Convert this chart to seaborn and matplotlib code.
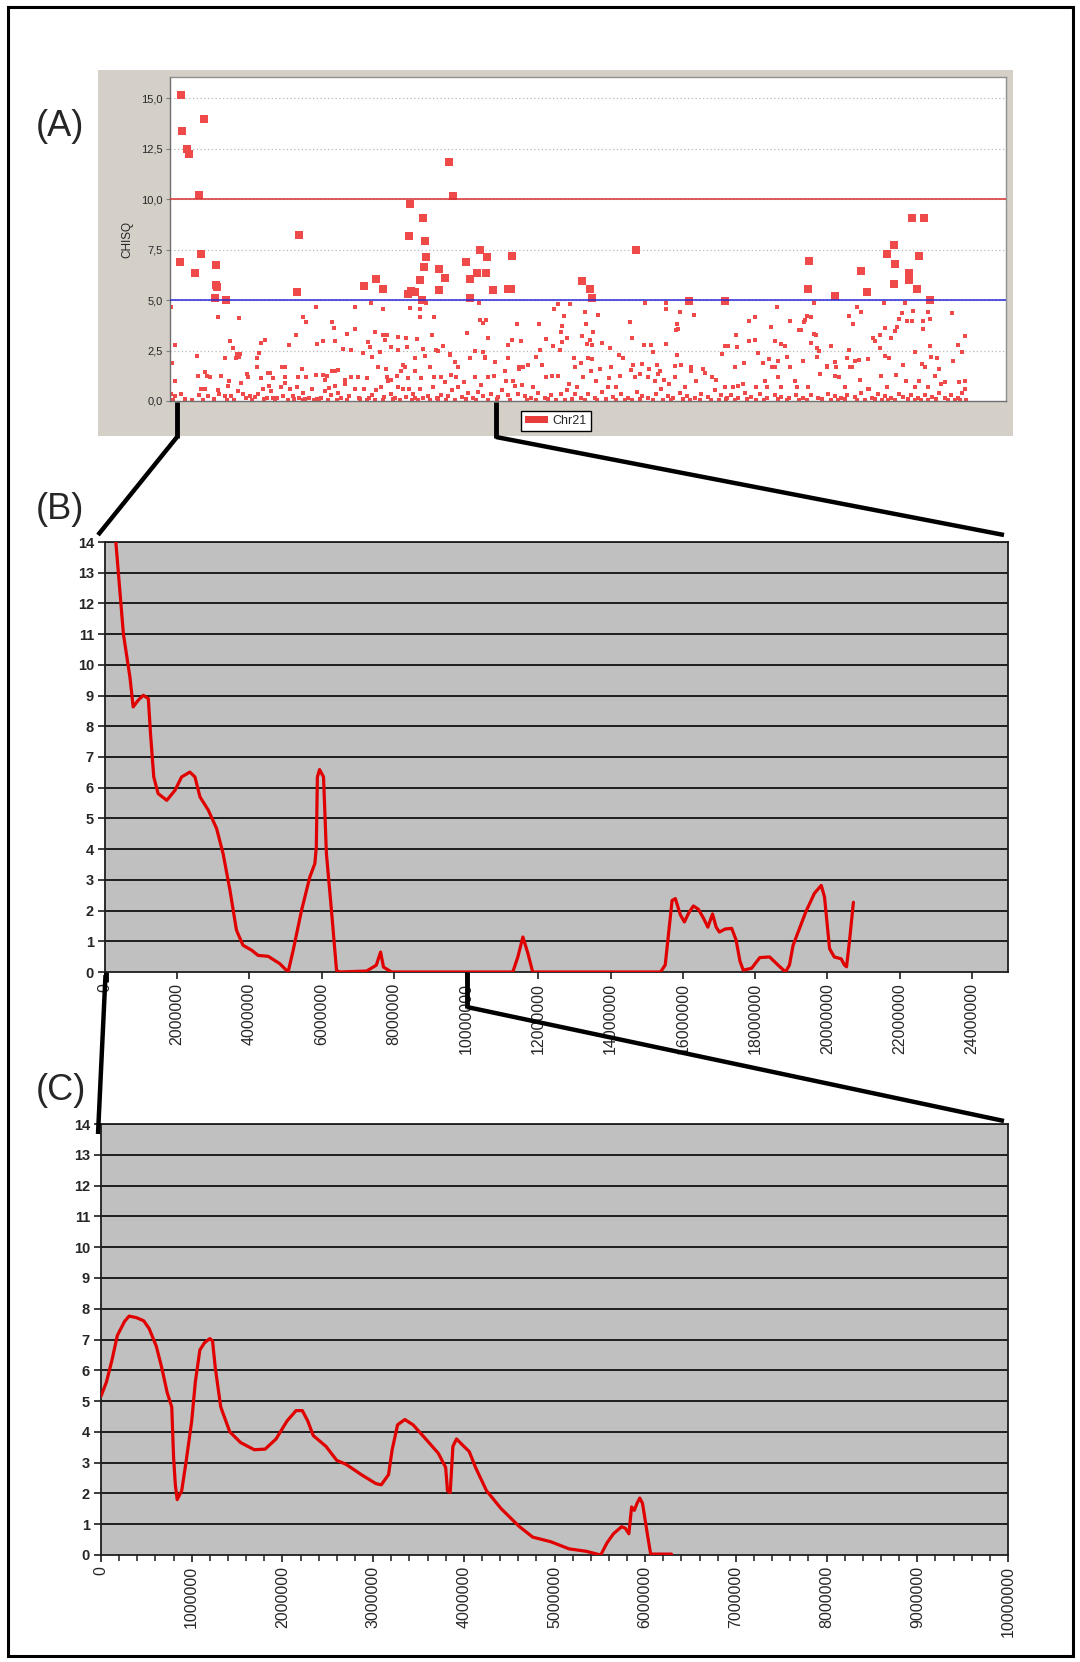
import matplotlib
matplotlib.use("Agg")
import matplotlib.pyplot as plt
from matplotlib.lines import Line2D
from matplotlib.patches import Rectangle, Patch
from matplotlib.ticker import MultipleLocator
import numpy as np
import pandas as pd
import seaborn as sns

W, H = 1080, 1662

# ─────────────────────────────────────────
# Panel A : CHISQ per marker along chr21 (x in arbitrary marker units)
# ─────────────────────────────────────────
a_big_x = [10.7, 12, 17.3, 19.3, 34, 29, 10.3, 25.3, 31.3, 45.7, 46, 47, 44.7, 55.7,
           129, 126.7, 193.7, 205.7, 213.3, 240, 239, 253.3, 254.7, 256, 254.3, 250.3,
           237.7, 241, 245, 252.3, 269.3, 275.3, 269.3, 279, 283, 296.3, 300, 300,
           309.7, 307.3, 317, 316, 323.3, 341.7, 337.7, 341.3,
           466, 412, 419.7, 422.3, 518.7, 555.3, 639.3, 638.3, 664.7, 690.7, 696.7,
           716.7, 723.7, 725, 723.7, 739.3, 739.3, 742, 754.3, 749, 746.7, 760.3]
a_big_y = [15.13, 13.37, 12.46, 12.21, 13.98, 10.2, 6.9, 6.35, 7.26, 6.72, 5.73, 5.63, 5.12, 4.98,
           8.23, 5.38, 5.69, 6.04, 5.56, 9.74, 8.17, 9.08, 7.92, 7.13, 6.65, 5.99,
           5.31, 5.43, 5.4, 5.02, 6.53, 6.1, 5.5, 11.85, 10.17, 6.9, 6.04, 5.12,
           7.49, 6.35, 7.13, 6.35, 5.5, 7.19, 5.56, 5.56,
           7.49, 5.92, 5.56, 5.1, 4.97, 4.97, 6.95, 5.56, 5.2, 6.42, 5.38,
           7.26, 7.74, 6.77, 5.79, 6.34, 5.97, 9.08, 9.08, 7.19, 5.56, 5.02]

a_small_x = [
    # first third
    0.7, 48.0, 69.0, 145.7, 132.7, 136.3, 162.0, 164.0, 185.0, 201.0, 185.3, 176.7, 213.3, 240.0,
    250.0, 256.3, 250.0, 263.7, 204.7, 213.3, 217.3, 228.0, 236.0, 247.3, 262.0, 273.3, 266.3,
    60.0, 63.0, 66.7, 70.0, 126.0, 119.0, 95.3, 91.3, 88.7, 87.3, 27.3, 4.7, 147.0, 153.0, 164.7,
    172.7, 181.3, 192.7, 198.0, 200.0, 202.0, 210.0, 215.0, 221.0, 227.7, 236.7, 245.0, 253.0,
    255.3, 268.3, 280.3,
    2.0, 5.3, 28.3, 35.3, 37.3, 40.0, 51.3, 54.7, 59.3, 66.0, 68.7, 76.7, 78.0, 87.0, 90.7, 98.0,
    100.0, 102.7, 112.0, 115.3, 114.7, 127.7, 132.3, 136.3, 146.0, 153.0, 155.3, 157.3, 162.0,
    164.7, 168.0, 174.7, 181.3, 188.0, 196.7, 208.0, 216.0, 216.7, 220.7, 227.3, 231.3, 232.7,
    235.3, 238.0, 245.3, 251.3, 260.3, 264.0, 271.3,
    0.7, 5.3, 10.7, 28.7, 31.3, 35.3, 38.0, 48.0, 48.7, 54.7, 58.0, 61.3, 68.0, 70.7, 73.0, 76.3,
    80.0, 85.3, 88.0, 93.3, 96.7, 98.7, 101.3, 103.3, 107.3, 111.3, 113.3, 115.3, 120.0, 122.7,
    126.7, 129.3, 132.7, 135.3, 139.3, 142.0, 146.7, 151.3, 154.7, 159.3, 161.3, 164.7, 168.0,
    170.7, 174.7, 178.7, 184.7, 188.7, 194.0, 198.7, 202.0, 206.0, 211.3, 214.0, 218.0, 220.7,
    224.7, 228.0, 232.7, 236.0, 238.7, 243.3, 245.3, 250.0, 253.3, 258.0, 262.7, 266.7, 270.7,
    274.7, 278.0,
    3, 15, 22, 33, 44, 57, 64, 82, 94, 105, 118, 124, 133, 144, 149, 158, 167, 177, 190, 197,
    205, 213, 223, 230, 242, 248, 260, 268, 276,
    # second third
    308.7, 309.7, 313.3, 316.0, 297.3, 318.0, 347.3, 342.3, 338.0, 351.3, 369.3, 375.7, 370.0,
    384.0, 388.0, 400.3, 393.7, 391.7, 390.7, 397.0, 391.7, 383.3, 390.3, 414.7, 412.0, 416.0,
    428.3, 423.3, 419.7, 422.0, 417.3, 432.0, 440.0, 459.7, 462.3, 475.3, 474.0, 480.7, 483.3,
    496.3, 495.7, 496.3, 509.7, 523.7, 507.3, 508.0, 506.3, 507.3, 554.7, 558.0, 552.3,
    280.0, 304.7, 313.3, 300.3, 315.3, 338.0, 366.0, 372.3, 404.0, 411.3, 418.0, 422.0, 430.0,
    448.7, 452.7, 441.3, 472.0, 463.3, 478.7, 487.3, 505.3, 511.3, 521.3, 533.3, 490.3, 284.7,
    288.0, 314.7, 324.7, 349.0, 353.3, 358.0, 404.7,
    280.7, 286.0, 294.0, 304.7, 310.7, 318.0, 324.0, 334.7, 336.0, 343.3, 349.3, 352.0, 362.7,
    376.0, 382.0, 388.0, 398.7, 407.3, 412.7, 421.3, 426.0, 439.3, 446.3, 450.0, 460.7, 464.7,
    470.0, 478.0, 484.7, 488.0, 494.0, 499.3, 504.7, 515.3, 521.3, 526.0, 534.7, 542.0, 546.0,
    555.3,
    282.0, 288.0, 292.0, 298.0, 302.7, 308.0, 312.7, 321.3, 328.0, 332.0, 338.0, 344.7, 348.0,
    354.7, 361.3, 368.0, 374.7, 381.3, 391.3, 396.7, 405.3, 411.3, 418.0, 424.7, 432.0, 438.0,
    443.3, 451.3, 458.0, 466.7, 472.0, 478.0, 486.0, 491.3, 498.0, 503.3, 510.0, 516.7, 524.7,
    531.3, 538.0, 544.7, 551.3, 557.3,
    285, 296, 306, 318, 327, 340, 357, 366, 378, 386, 395, 402, 415, 427, 436, 446, 455, 462,
    470, 483, 493, 501, 513, 520, 530, 541, 549, 556,
    # last third
    607.3, 578.7, 584.7, 601.3, 620.0, 644.0, 636.7, 635.3, 634.0, 630.7, 629.3, 640.7, 605.3,
    611.3, 579.3, 584.7, 566.0, 558.0, 566.7, 641.3, 644.0, 646.3, 646.7, 649.3, 661.3, 679.3,
    683.3, 686.7, 690.7, 679.3, 714.0, 714.7, 710.3, 703.3, 705.3, 720.7, 724.7, 727.3, 728.7,
    732.0, 734.7, 737.3, 742.3, 743.3, 752.7, 753.0, 757.7, 760.0, 782.0, 794.7, 788.0, 792.0,
    760.0, 709.7, 744.7, 783.3,
    564.7, 574.0, 588.0, 592.7, 599.3, 602.0, 604.7, 608.0, 615.3, 616.7, 620.0, 632.7, 646.7,
    656.7, 664.7, 666.0, 676.7, 680.0, 684.7, 689.3, 698.0, 714.7, 719.3, 732.7, 752.0, 761.3,
    767.3, 754.7, 768.7,
    563.3, 568.0, 572.7, 586.0, 594.7, 596.7, 608.0, 611.3, 624.7, 626.7, 638.0, 650.0, 656.7,
    664.7, 668.7, 674.7, 682.0, 690.0, 698.0, 711.3, 716.7, 726.0, 736.0, 744.7, 749.3, 758.0,
    764.7, 771.3, 774.7, 789.3, 794.7, 795.3,
    561.3, 568.0, 574.7, 581.3, 590.0, 597.3, 604.7, 611.3, 619.3, 626.0, 633.3, 641.3, 648.0,
    658.0, 664.7, 671.3, 677.3, 684.7, 691.3, 699.3, 702.0, 708.0, 714.7, 721.3, 728.7, 733.3,
    741.3, 748.0, 754.7, 762.0, 768.7, 774.7, 781.3, 788.0, 792.0,
    565, 577, 586, 594, 608, 617, 629, 637, 652, 661, 668, 675, 687, 695, 705, 712, 718, 725,
    738, 745, 751, 758, 766, 778, 785, 790, 796,
]
a_small_y = [
    4.67, 4.17, 4.12, 4.67, 4.17, 3.93, 3.93, 3.60, 4.67, 4.83, 3.57, 3.32, 4.53, 4.60,
    4.53, 4.83, 4.17, 4.17, 3.40, 3.25, 3.25, 3.17, 3.13, 3.07, 3.25, 2.70, 2.53,
    2.97, 2.63, 2.33, 2.33, 3.25, 2.75, 3.02, 2.88, 2.40, 2.15, 2.23, 2.77, 2.83, 2.97, 2.97,
    2.57, 2.53, 2.40, 2.92, 2.67, 2.20, 2.42, 3.00, 2.67, 2.53, 2.67, 2.13, 2.57,
    2.25, 2.47, 2.33,
    1.87, 1.00, 1.25, 1.42, 1.25, 1.18, 1.22, 2.12, 1.00, 2.12, 2.17, 1.33, 1.17, 1.67, 1.13, 1.37,
    1.37, 1.15, 1.67, 1.67, 1.17, 1.17, 1.60, 1.17, 1.27, 1.27, 1.03, 1.23, 1.47,
    1.47, 1.55, 1.03, 1.17, 1.17, 1.13, 1.67, 1.58, 1.18, 1.03, 1.22, 1.47, 1.80,
    1.67, 1.13, 1.50, 1.13, 1.67, 1.18, 1.17,
    0.33, 0.25, 0.33, 0.30, 0.58, 0.58, 0.23, 0.53, 0.33, 0.25, 0.72, 0.23, 0.50, 0.87, 0.33, 0.17,
    0.25, 0.22, 0.33, 0.58, 0.17, 0.75, 0.50, 0.17, 0.17, 0.67, 0.25, 0.87, 0.58, 0.25,
    0.67, 0.17, 0.42, 0.08, 0.17, 0.58, 0.08, 0.17, 0.50, 0.63, 0.30, 0.75, 0.42,
    0.17, 0.83, 0.25, 0.58, 0.17, 0.58, 0.17, 0.30, 0.53, 0.67, 0.20, 1.00, 0.33,
    0.17, 0.67, 0.58, 0.20, 0.58, 0.33, 0.17, 0.58, 0.17, 0.25, 0.67, 0.17, 0.30,
    0.92, 0.25,
    0.05, 0.08, 0.03, 0.06, 0.10, 0.04, 0.07, 0.05, 0.09, 0.03, 0.06, 0.10, 0.04, 0.05, 0.08, 0.03,
    0.07, 0.05, 0.09, 0.04, 0.06, 0.03, 0.08, 0.05, 0.07, 0.04, 0.06, 0.09, 0.03,
    4.83, 4.03, 3.88, 4.03, 3.38, 3.13, 3.80, 3.02, 2.77, 2.95, 3.80, 3.07, 2.53,
    4.53, 4.78, 4.78, 4.20, 3.73, 3.43, 3.13, 2.90, 2.70, 2.53, 4.42, 3.20, 3.80,
    4.28, 3.43, 3.02, 2.77, 2.83, 2.87, 2.63, 3.93, 3.13, 4.83, 2.77, 2.77, 2.45,
    4.83, 4.55, 2.83, 4.42, 4.28, 3.80, 3.58, 3.50, 2.28, 2.70, 2.70, 2.33,
    2.28, 2.47, 2.43, 2.13, 2.13, 2.12, 2.20, 1.77, 2.13, 1.87, 2.13, 2.08, 1.60,
    2.28, 2.13, 1.67, 1.83, 1.77, 1.60, 1.80, 1.75, 1.80, 1.70, 1.60, 1.47, 1.92,
    1.67, 2.20, 1.92, 1.58, 1.67, 1.77, 1.67,
    1.27, 1.17, 0.92, 1.17, 0.80, 1.17, 1.23, 1.50, 0.97, 1.00, 1.67, 0.80, 0.70,
    1.17, 1.23, 1.23, 0.83, 0.70, 1.17, 1.47, 1.00, 1.13, 0.67, 1.25, 1.53, 1.17,
    1.33, 1.17, 1.00, 1.33, 1.03, 0.83, 1.17, 0.67, 1.47, 1.00, 1.37, 1.20, 1.03,
    0.70,
    0.53, 0.67, 0.20, 0.42, 0.17, 0.47, 0.23, 0.33, 0.20, 0.53, 0.30, 0.73, 0.37,
    0.25, 0.17, 0.42, 0.17, 0.30, 0.33, 0.53, 0.33, 0.17, 0.33, 0.13, 0.47, 0.67,
    0.20, 0.37, 0.17, 0.47, 0.23, 0.17, 0.33, 0.58, 0.25, 0.17, 0.42, 0.25, 0.17,
    0.33, 0.20, 0.53, 0.30, 0.17,
    0.05, 0.08, 0.03, 0.06, 0.10, 0.04, 0.07, 0.05, 0.09, 0.03, 0.06, 0.10, 0.04, 0.05,
    0.08, 0.03, 0.07, 0.05, 0.09, 0.04, 0.06, 0.03, 0.08, 0.05, 0.07, 0.04, 0.06, 0.09,
    4.67, 3.95, 4.17, 3.67, 3.95, 4.83, 4.20, 4.03, 3.92, 3.53, 3.50, 4.17, 2.97,
    2.83, 2.97, 3.03, 3.25, 2.70, 2.67, 2.88, 3.30, 3.25, 2.63, 2.50, 2.70, 4.23,
    3.80, 4.67, 4.42, 2.53, 4.83, 3.62, 3.27, 3.13, 2.97, 3.10, 3.45, 3.67, 4.08,
    4.37, 4.83, 3.95, 3.95, 4.47, 3.57, 3.95, 4.42, 4.05, 4.37, 3.20, 2.78, 2.45,
    2.70, 2.63, 2.42, 1.97,
    1.70, 1.90, 2.40, 1.87, 2.08, 1.67, 1.67, 1.97, 2.70, 2.17, 1.67, 2.00, 2.17,
    1.75, 1.92, 1.67, 2.13, 1.67, 2.00, 2.03, 2.08, 2.25, 2.13, 1.80, 1.83, 2.20,
    2.13, 1.70, 1.58,
    0.70, 0.75, 0.83, 0.67, 1.00, 0.70, 1.20, 0.67, 1.00, 0.67, 0.70, 1.33, 1.67,
    1.25, 1.17, 0.67, 1.67, 1.03, 0.60, 1.25, 0.70, 1.30, 1.00, 0.67, 1.00, 0.67,
    1.25, 0.83, 0.92, 0.93, 1.00, 0.57,
    0.30, 0.17, 0.42, 0.20, 0.33, 0.17, 0.30, 0.20, 0.17, 0.30, 0.17, 0.30, 0.17,
    0.33, 0.23, 0.17, 0.30, 0.20, 0.42, 0.57, 0.17, 0.33, 0.25, 0.17, 0.37, 0.20,
    0.30, 0.17, 0.30, 0.20, 0.42, 0.17, 0.30, 0.17, 0.42,
    0.05, 0.08, 0.03, 0.06, 0.10, 0.04, 0.07, 0.05, 0.09, 0.03, 0.06, 0.10, 0.04, 0.05,
    0.08, 0.03, 0.07, 0.05, 0.09, 0.04, 0.06, 0.03, 0.08, 0.05, 0.07, 0.04, 0.06,
]
a_yticks = [0, 2.5, 5, 7.5, 10, 12.5, 15]

# ─────────────────────────────────────────
# Panel B : smoothed CHISQ, 0-25 Mb
# ─────────────────────────────────────────
b_pos_mb = [0.30, 0.51, 0.69, 0.78, 0.92, 1.06, 1.20, 1.26, 1.35, 1.47, 1.71, 1.94, 2.12, 2.35,
            2.49, 2.63, 2.86, 3.09, 3.27, 3.46, 3.64, 3.82, 4.06, 4.24, 4.52, 4.84, 5.07, 5.21,
            5.44, 5.67, 5.81, 5.85, 5.88, 5.94, 6.05, 6.13, 6.27, 6.41, 6.50, 7.24, 7.51, 7.63,
            7.71, 7.93, 11.29, 11.43, 11.57, 11.71, 11.84, 15.38, 15.51, 15.70, 15.79, 15.93,
            16.04, 16.16, 16.29, 16.43, 16.57, 16.69, 16.82, 16.92, 17.01, 17.17, 17.35, 17.47,
            17.58, 17.67, 17.90, 18.13, 18.40, 18.63, 18.84, 18.95, 19.05, 19.41, 19.64, 19.83,
            19.92, 20.06, 20.19, 20.38, 20.47, 20.53, 20.61, 20.72]
b_chisq = [14.0, 11.0, 9.6, 8.63, 8.85, 9.01, 8.9, 7.76, 6.35, 5.81, 5.59, 5.92, 6.35, 6.51,
           6.35, 5.70, 5.27, 4.67, 3.85, 2.66, 1.36, 0.87, 0.71, 0.54, 0.51, 0.27, 0.0, 0.71,
           2.0, 3.09, 3.53, 4.07, 6.35, 6.59, 6.35, 3.85, 2.0, 0.05, 0.0, 0.03, 0.22, 0.65,
           0.16, 0.0, 0.0, 0.49, 1.14, 0.6, 0.0, 0.0, 0.23, 2.33, 2.39, 1.86,
           1.63, 1.92, 2.15, 2.04, 1.75, 1.46, 1.89, 1.46, 1.30, 1.40, 1.42, 1.05,
           0.35, 0.06, 0.12, 0.47, 0.49, 0.23, 0.0, 0.23, 0.87, 1.98, 2.56, 2.82,
           2.44, 0.76, 0.49, 0.43, 0.23, 0.17, 0.99, 2.27]

# ─────────────────────────────────────────
# Panel C : smoothed CHISQ, 0-10 Mb
# ─────────────────────────────────────────
c_pos_mb = [0.00, 0.06, 0.12, 0.18, 0.26, 0.31, 0.39, 0.47, 0.53, 0.61, 0.67, 0.73, 0.78, 0.80,
            0.82, 0.84, 0.89, 0.94, 1.00, 1.04, 1.09, 1.14, 1.20, 1.23, 1.26, 1.32, 1.42, 1.54,
            1.69, 1.81, 1.93, 2.05, 2.15, 2.22, 2.28, 2.34, 2.48, 2.60, 2.70, 2.87, 3.03, 3.09,
            3.17, 3.21, 3.27, 3.35, 3.44, 3.58, 3.72, 3.80, 3.82, 3.85, 3.88, 3.92, 3.98, 4.06,
            4.13, 4.25, 4.41, 4.61, 4.76, 4.96, 5.16, 5.35, 5.51, 5.58, 5.65, 5.74, 5.78, 5.82,
            5.85, 5.88, 5.91, 5.94, 5.97, 6.02, 6.06, 6.29]
c_chisq = [5.16, 5.62, 6.32, 7.13, 7.59, 7.76, 7.71, 7.61, 7.36, 6.78, 6.08, 5.27, 4.81, 3.19,
           2.26, 1.80, 2.09, 3.07, 4.35, 5.62, 6.66, 6.89, 7.03, 6.95, 6.08, 4.81, 4.0, 3.65,
           3.42, 3.44, 3.77, 4.35, 4.69, 4.69, 4.35, 3.88, 3.53, 3.07, 2.95, 2.61, 2.32, 2.28,
           2.61, 3.42, 4.23, 4.40, 4.23, 3.77, 3.30, 2.84, 2.09, 2.03, 3.53, 3.77, 3.59, 3.36,
           2.84, 2.09, 1.51, 0.93, 0.58, 0.43, 0.20, 0.12, 0.0, 0.40, 0.69, 0.92, 0.87, 0.69,
           1.56, 1.45, 1.68, 1.85, 1.68, 0.75, 0.03, 0.03]

panel_labels = ["(A)", "(B)", "(C)"]

# ─────────────────────────────────────────
# Figure
# ─────────────────────────────────────────
sns.set_theme(style="white")
plt.rcParams['font.family'] = ['Liberation Sans', 'DejaVu Sans']

fig = plt.figure(figsize=(W / 100, H / 100), dpi=100)


def box(x0, y0, x1, y1):
    return [x0 / W, 1 - y1 / H, (x1 - x0) / W, (y1 - y0) / H]


def pt(x, y):
    return x / W, 1 - y / H


def fig_line(xs, ys, lw=3.0):
    fx = [x / W for x in xs]
    fy = [1 - y / H for y in ys]
    fig.add_artist(Line2D(fx, fy, transform=fig.transFigure, color="black",
                          lw=lw, solid_capstyle="butt", zorder=20))


RED_PT = "#EE4A4A"

# ── Panel A ──
fig.add_artist(Rectangle(pt(98, 436), 915 / W, 366 / H, transform=fig.transFigure,
                         facecolor="#D4D0C8", edgecolor="none", zorder=0))
axA = fig.add_axes(box(170, 77, 1006, 401))
axA.set_facecolor("white")
for y in a_yticks[1:]:
    axA.axhline(y, color="#B8B8B8", ls=(0, (1, 2)), lw=0.9, zorder=0.5)
axA.axhline(10, color="#D83030", lw=1.1, zorder=3)
axA.axhline(5, color="#2828D8", lw=1.1, zorder=3)

df_small = pd.DataFrame({"pos": a_small_x, "chisq": a_small_y})
df_big = pd.DataFrame({"pos": a_big_x, "chisq": a_big_y})
sns.scatterplot(data=df_small, x="pos", y="chisq", marker="s", s=5, color=RED_PT,
                linewidth=0, ax=axA, zorder=2)
sns.scatterplot(data=df_big, x="pos", y="chisq", marker="s", s=36, color=RED_PT,
                linewidth=0, ax=axA, zorder=2)
axA.set_xlim(0, 836)
axA.set_ylim(0, 16.04)
axA.set_xticks([])
axA.set_yticks(a_yticks)
axA.set_yticklabels([f"{v:.1f}".replace(".", ",") for v in a_yticks], fontsize=8)
axA.tick_params(axis="y", length=3, width=0.8, color="#808080", pad=2, left=True)
axA.set_xlabel("")
axA.set_ylabel("CHISQ", fontsize=8.5, labelpad=6)
for s in axA.spines.values():
    s.set_color("#909090")
    s.set_linewidth(1.0)
axA.spines["bottom"].set_color("#707070")
axA.spines["left"].set_color("#707070")
axA.legend(handles=[Patch(facecolor="#E83C3C", edgecolor="none", label="Chr21")],
           loc="center", bbox_to_anchor=pt(556, 421), bbox_transform=fig.transFigure,
           fontsize=9, frameon=True, fancybox=False, edgecolor="black",
           handlelength=1.8, handleheight=0.45, handletextpad=0.4,
           borderpad=0.35, framealpha=1)

# ── Panel B ──
axB = fig.add_axes(box(105, 542, 1008, 972))
df_b = pd.DataFrame({"pos": np.array(b_pos_mb) * 1e6, "chisq": b_chisq})

# ── Panel C ──
axC = fig.add_axes(box(101, 1124, 1008, 1555))
df_c = pd.DataFrame({"pos": np.array(c_pos_mb) * 1e6, "chisq": c_chisq})

for ax, df, xmax, step in [(axB, df_b, 25e6, 2e6), (axC, df_c, 10e6, 1e6)]:
    ax.set_facecolor("#C0C0C0")
    for y in range(1, 15):
        ax.axhline(y, color="#1E1E1E", lw=1.4, zorder=1)
    sns.lineplot(data=df, x="pos", y="chisq", color="#E00000", lw=2.3,
                 estimator=None, sort=False, ax=ax, zorder=3)
    ax.set_xlim(0, xmax)
    ax.set_ylim(0, 14)
    ax.set_xlabel("")
    ax.set_ylabel("")
    ax.set_yticks(range(0, 15))
    ax.set_yticklabels([str(i) for i in range(0, 15)], fontsize=10.5, fontweight="bold")
    ticks = np.arange(0, xmax + 1, step)
    if xmax == 25e6:
        ticks = ticks[ticks <= 24e6]
    ax.set_xticks(ticks)
    ax.set_xticklabels([f"{int(t)}" for t in ticks], rotation=90, fontsize=11.5)
    ax.tick_params(axis="both", which="major", direction="out", length=5, width=1.2,
                   color="#1E1E1E", bottom=True, left=True, pad=3)
    for s in ax.spines.values():
        s.set_color("#1E1E1E")
        s.set_linewidth(1.3)

axC.xaxis.set_minor_locator(MultipleLocator(2e5))
axC.tick_params(axis="x", which="minor", direction="out", length=4, width=1.1,
                color="#1E1E1E", bottom=True)

# ── zoom connectors ──
fig_line([177, 177], [402, 438], lw=3.5)
fig_line([496, 496], [402, 438], lw=3.5)
fig_line([177, 98], [437, 535], lw=3.2)
fig_line([496, 1004], [437, 535], lw=3.2)

fig_line([105.5, 105.5], [972, 982], lw=3.5)
fig_line([105.5, 98], [975, 1134], lw=3.2)
fig_line([467, 467], [972, 1008], lw=3.5)
fig_line([467, 1004], [1007, 1121], lw=3.2)

# ── panel letters ──
for lab, y in zip(panel_labels, [126, 510, 1090]):
    fig.text(36 / W, 1 - y / H, lab, fontsize=26, ha="left", va="center")

# outer frame
fig.add_artist(Rectangle(pt(8, 1656), 1065 / W, 1649 / H, transform=fig.transFigure,
                         fill=False, edgecolor="black", lw=2.2, zorder=30))

fig.savefig("out.png", dpi=100)
